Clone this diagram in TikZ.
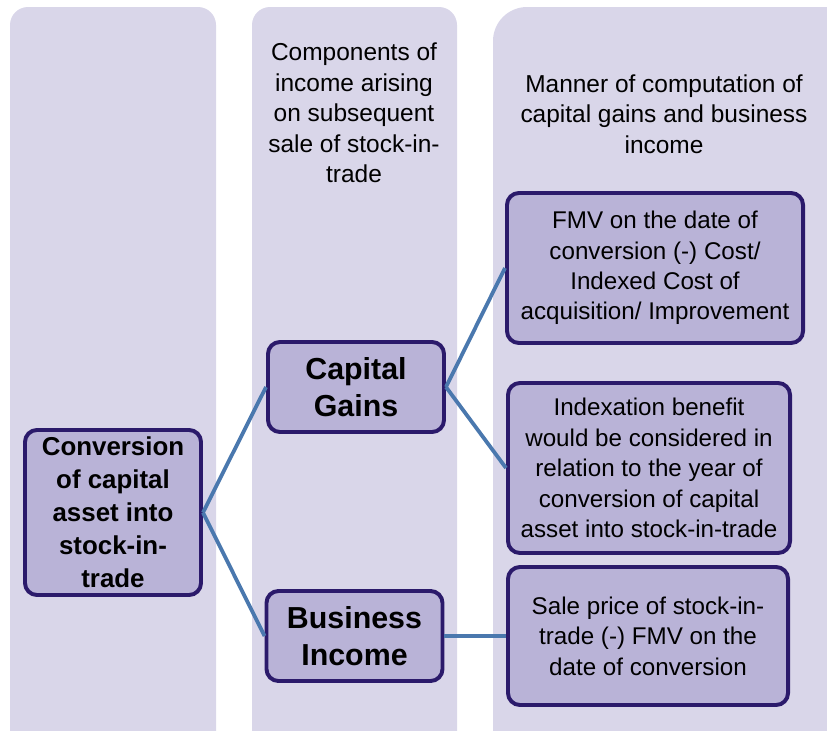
\documentclass[tikz,border=0pt]{standalone}
\usepackage{fontspec}
\setmainfont{Liberation Sans}
\usepackage{tikz}
\usetikzlibrary{positioning, calc}

\definecolor{colbg}{HTML}{D9D6E9}
\definecolor{boxfill}{HTML}{B9B3D7}
\definecolor{boxline}{HTML}{2B1A6B}
\definecolor{linkblue}{HTML}{4A78AE}

\begin{document}
\begin{tikzpicture}[
    x=0.025cm, y=-0.025cm,
    colBg/.style={fill=colbg, draw=none, rounded corners=0.45cm},
    colBgWide/.style={fill=colbg, draw=none, rounded corners=0.85cm},
    head/.style={align=center, inner sep=0pt, font={\fontsize{17.4pt}{21.6pt}\selectfont}},
    boxMain/.style={rectangle, rounded corners=0.3cm, draw=boxline, line width=2.8pt, fill=boxfill, align=center, inner sep=0pt, minimum width=4.4cm, minimum height=4.125cm, font={\fontsize{18.4pt}{23.4pt}\selectfont\bfseries}},
    boxComp/.style={rectangle, rounded corners=0.3cm, draw=boxline, line width=2.8pt, fill=boxfill, align=center, inner sep=0pt, minimum width=4.4cm, minimum height=2.25cm, font={\fontsize{21.6pt}{26.2pt}\selectfont\bfseries}},
    boxCalc/.style={rectangle, rounded corners=0.3cm, draw=boxline, line width=2.8pt, fill=boxfill, align=center, inner sep=0pt, font={\fontsize{17.2pt}{21.6pt}\selectfont}},
    link/.style={draw=linkblue, line width=2.7pt}
]
\clip (0,0) rectangle (827,730);

% ============== COLUMNS ==============
\fill[colBg]     (10,7)  rectangle (216,780);
\fill[colBg]     (252,7) rectangle (457,780);
\fill[colBgWide] (493,7) rectangle (880,780);

\node[head] (headComp) at (354,113) {Components of\\income arising\\on subsequent\\sale of stock-in-\\trade};
\node[head] (headCalc) at (664,114) {Manner of computation of\\capital gains and business\\income};

% ============== BOXES ==============
\node[boxMain] (conv) at (113,512.5) {Conversion\\of capital\\asset into\\stock-in-\\trade};

\node[boxComp] (cg) at (356,387) {Capital\\Gains};
\node[boxComp] (bi) at (354.5,636) {Business\\Income};

\node[boxCalc, minimum width=7.4cm, minimum height=3.75cm] (fmv) at (655,268) {FMV on the date of\\conversion (-) Cost/\\Indexed Cost of\\acquisition/ Improvement};
\node[boxCalc, minimum width=7.05cm, minimum height=4.25cm] (idx) at (649,468) {Indexation benefit\\would be considered in\\relation to the year of\\conversion of capital\\asset into stock-in-trade};
\node[boxCalc, minimum width=7.0cm, minimum height=3.45cm] (sale) at (648,636) {Sale price of stock-in-\\trade (-) FMV on the\\date of conversion};

% ============== LINKS ==============
\draw[link] (conv.east) -- (cg.west);
\draw[link] (conv.east) -- (bi.west);
\draw[link] (cg.east)   -- (fmv.west);
\draw[link] (cg.east)   -- (idx.west);
\draw[link] (bi.east)   -- (sale.west);
\end{tikzpicture}
\end{document}
